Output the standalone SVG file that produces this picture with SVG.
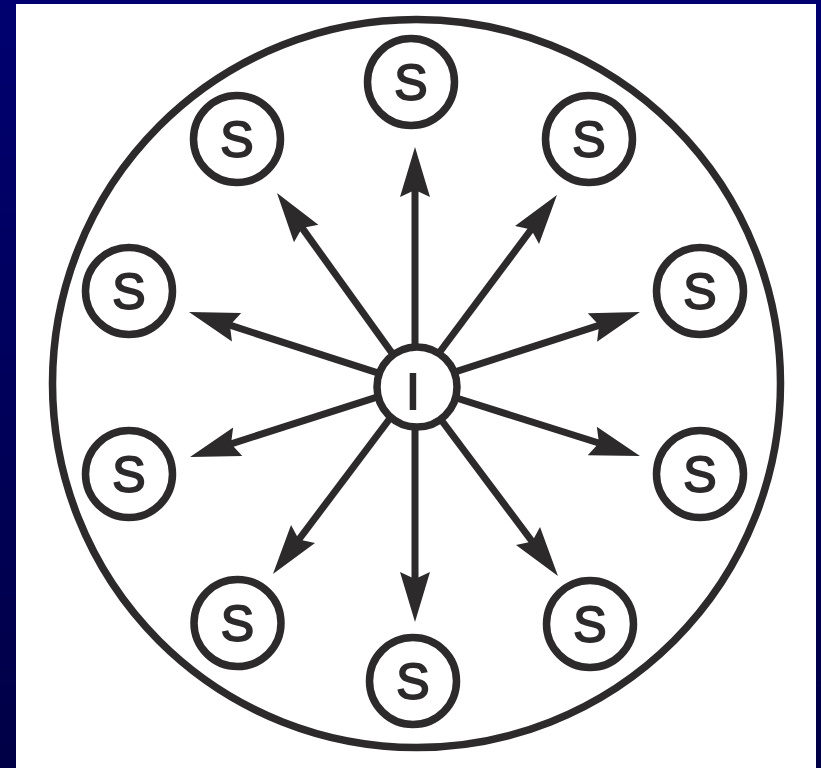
<svg xmlns="http://www.w3.org/2000/svg" width="821" height="768" viewBox="0 0 821 768">
<style>
.ring{fill:none;stroke:#2c2a2b;stroke-width:7.5}
.node circle{fill:#fff;stroke:#2c2a2b;stroke-width:7.5}
.node text{font-family:"Liberation Sans",Arial,sans-serif;font-size:50px;fill:#2c2a2b;stroke:#2c2a2b;stroke-width:1.8;text-anchor:middle}
.conn line{stroke:#2c2a2b;stroke-width:7}
</style>
<defs>
<linearGradient id="bg" x1="0" y1="0" x2="0" y2="1">
<stop offset="0" stop-color="#000070"/>
<stop offset="1" stop-color="#000046"/>
</linearGradient>
<marker id="ah" markerUnits="userSpaceOnUse" viewBox="-20 -20 60 40" markerWidth="60" markerHeight="40" refX="0" refY="0" orient="auto" overflow="visible">
<path d="M35,0 L-15,-15 L-8,0 L-15,15 Z" fill="#2c2a2b"/>
</marker>
</defs>
<rect x="0" y="0" width="821" height="768" fill="url(#bg)"/>
<rect x="16" y="4" width="800" height="764" fill="#fff"/>
<circle class="ring" cx="416.5" cy="383.5" r="364"/>
<g id="connectors" class="conn">
<line x1="415" y1="345" x2="415" y2="182" marker-end="url(#ah)"/>
<line x1="439" y1="353" x2="536" y2="223" marker-end="url(#ah)"/>
<line x1="453" y1="372.6" x2="606.7" y2="322.8" marker-end="url(#ah)"/>
<line x1="453.2" y1="397" x2="606.6" y2="445.5" marker-end="url(#ah)"/>
<line x1="439" y1="417" x2="537" y2="548" marker-end="url(#ah)"/>
<line x1="415" y1="425" x2="415" y2="587" marker-end="url(#ah)"/>
<line x1="391" y1="417" x2="294" y2="546" marker-end="url(#ah)"/>
<line x1="376.9" y1="397.2" x2="223.4" y2="446.3" marker-end="url(#ah)"/>
<line x1="376.9" y1="372.7" x2="222.3" y2="322.7" marker-end="url(#ah)"/>
<line x1="391.6" y1="352.5" x2="297.4" y2="221.4" marker-end="url(#ah)"/>
</g>
<g id="node-I" class="node"><circle cx="417" cy="387" r="40"/><text x="413" y="409">I</text></g>
<g id="node-S1" class="node"><circle cx="411" cy="82" r="43.5"/><text x="411" y="100">S</text></g>
<g id="node-S2" class="node"><circle cx="589" cy="139" r="43.5"/><text x="589" y="157">S</text></g>
<g id="node-S3" class="node"><circle cx="700" cy="291" r="43.5"/><text x="700" y="309">S</text></g>
<g id="node-S4" class="node"><circle cx="700" cy="474" r="43.5"/><text x="700" y="492">S</text></g>
<g id="node-S5" class="node"><circle cx="590" cy="624" r="43.5"/><text x="590" y="642">S</text></g>
<g id="node-S6" class="node"><circle cx="413" cy="681" r="43.5"/><text x="413" y="699">S</text></g>
<g id="node-S7" class="node"><circle cx="237.5" cy="623" r="43.5"/><text x="237.5" y="641">S</text></g>
<g id="node-S8" class="node"><circle cx="129" cy="474" r="43.5"/><text x="129" y="492">S</text></g>
<g id="node-S9" class="node"><circle cx="129" cy="291" r="43.5"/><text x="129" y="309">S</text></g>
<g id="node-S10" class="node"><circle cx="237" cy="139" r="43.5"/><text x="237" y="157">S</text></g>
</svg>
